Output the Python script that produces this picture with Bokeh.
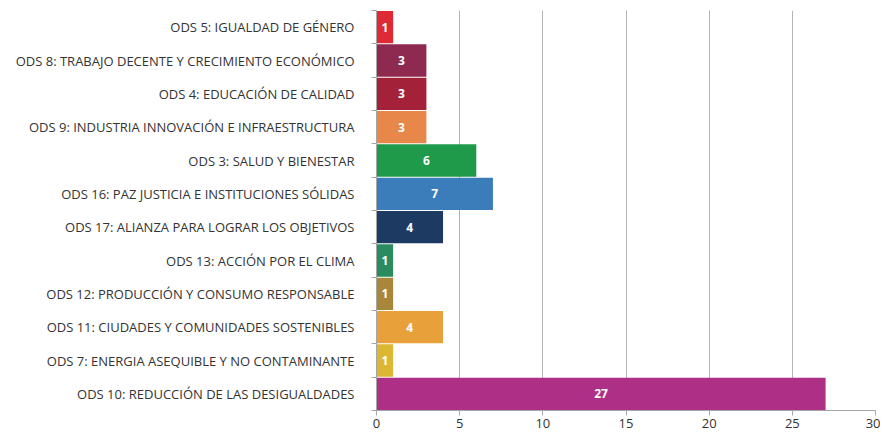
from bokeh.plotting import figure
from bokeh.models import ColumnDataSource, FixedTicker, Range1d
from bokeh.core.properties import value
from bokeh.embed import file_html
from bokeh.resources import INLINE

categories = [
    "ODS 5: IGUALDAD DE GÉNERO",
    "ODS 8: TRABAJO DECENTE Y CRECIMIENTO ECONÓMICO",
    "ODS 4: EDUCACIÓN DE CALIDAD",
    "ODS 9: INDUSTRIA INNOVACIÓN E INFRAESTRUCTURA",
    "ODS 3: SALUD Y BIENESTAR",
    "ODS 16: PAZ JUSTICIA E INSTITUCIONES SÓLIDAS",
    "ODS 17: ALIANZA PARA LOGRAR LOS OBJETIVOS",
    "ODS 13: ACCIÓN POR EL CLIMA",
    "ODS 12: PRODUCCIÓN Y CONSUMO RESPONSABLE",
    "ODS 11: CIUDADES Y COMUNIDADES SOSTENIBLES",
    "ODS 7: ENERGIA ASEQUIBLE Y NO CONTAMINANTE",
    "ODS 10: REDUCCIÓN DE LAS DESIGUALDADES",
]
values = [1, 3, 3, 3, 6, 7, 4, 1, 1, 4, 1, 27]
colors = ["#dd2a35", "#8e2a50", "#a3223a", "#e8874a", "#1f9a4b", "#3b7dbb",
          "#1d3a63", "#2a8b61", "#a8873a", "#e8a03a", "#dcb734", "#ae2f86"]
x_ticks = [0, 5, 10, 15, 20, 25, 30]

n = len(categories)
ypos = [n - 1 - i for i in range(n)]
src = ColumnDataSource(dict(
    y=ypos, v=values, half=[v / 2 for v in values], c=colors,
    lbl=[str(v) for v in values]))

p = figure(width=880, height=430, output_backend="svg", toolbar_location=None,
           x_range=Range1d(0, 30), y_range=Range1d(-0.5, n - 0.5),
           min_border_left=376, min_border_right=5, min_border_top=10,
           min_border_bottom=10)
p.outline_line_color = None
p.background_fill_color = "white"

p.hbar(y="y", left=0, right="v", height=0.97, color="c", line_color=None, source=src)

p.text(x="half", y="y", text="lbl", source=src, text_align="center",
       text_baseline="middle", text_color="white", text_font_style="bold",
       text_font=value("Open Sans"), text_font_size="12px")

p.xaxis.ticker = FixedTicker(ticks=x_ticks)
p.xaxis.axis_line_color = "#a6a6a6"
p.xaxis.major_tick_line_color = "#a6a6a6"
p.xaxis.major_tick_out = 5
p.xaxis.major_tick_in = 0
p.xaxis.minor_tick_line_color = None
p.xaxis.major_label_text_font = "Open Sans"
p.xaxis.major_label_text_font_size = "13px"
p.xaxis.major_label_text_color = "#333333"
p.xaxis.major_label_standoff = 3

p.yaxis.ticker = FixedTicker(ticks=ypos, minor_ticks=[k - 0.5 for k in range(n + 1)])
p.yaxis.major_label_overrides = {y: c for y, c in zip(ypos, categories)}
p.yaxis.axis_line_color = "#a6a6a6"
p.yaxis.major_tick_line_color = None
p.yaxis.major_tick_out = 0
p.yaxis.major_tick_in = 0
p.yaxis.minor_tick_line_color = "#a6a6a6"
p.yaxis.minor_tick_out = 5
p.yaxis.minor_tick_in = 0
p.yaxis.major_label_text_font = "Open Sans"
p.yaxis.major_label_text_font_size = "13px"
p.yaxis.major_label_text_color = "#333333"
p.yaxis.major_label_standoff = 17

p.xgrid.ticker = FixedTicker(ticks=x_ticks[1:])
p.xgrid.grid_line_color = "#b3b3b3"
p.ygrid.grid_line_color = None

open("out.html", "w").write(file_html(p, INLINE))
